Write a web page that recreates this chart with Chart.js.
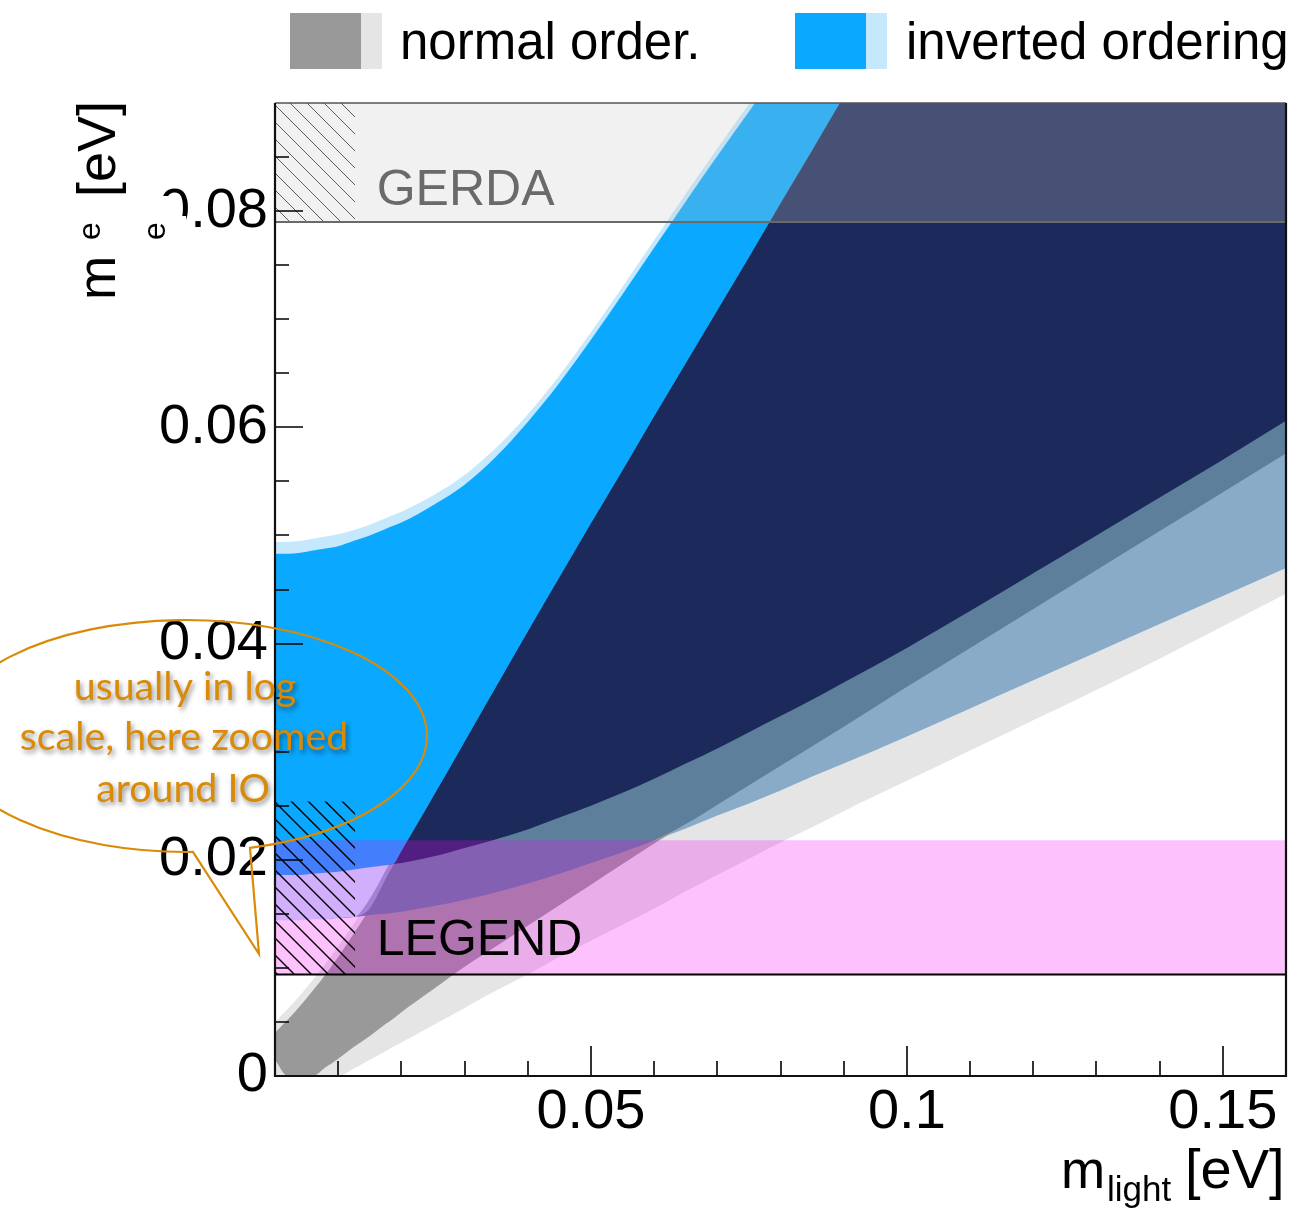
<!DOCTYPE html>
<html>
<head>
<meta charset="utf-8">
<script src="https://cdn.jsdelivr.net/npm/chart.js@4.4.1/dist/chart.umd.min.js"></script>
<style>
  html, body { margin: 0; padding: 0; background: #ffffff; }
  #wrap { width: 1292px; height: 1214px; position: relative; }
</style>
</head>
<body>
<div id="wrap"><canvas id="plot"></canvas></div>
<script>
// Lightest neutrino mass grid [eV]
const mLight = [0, 0.002, 0.004, 0.006, 0.008, 0.01, 0.0125, 0.015, 0.0175, 0.0187, 0.02,
  0.025, 0.03, 0.035, 0.04, 0.045, 0.05, 0.055, 0.06, 0.065, 0.07,
  0.075, 0.08, 0.085, 0.09, 0.1, 0.11, 0.12, 0.13, 0.14, 0.15, 0.16];

// Inverted ordering: 3 sigma envelope and central band edges [eV]
const ioUpper3s = [0.0494, 0.0494, 0.0495, 0.0497, 0.0499, 0.0501, 0.0505, 0.0510, 0.0516, 0.0519, 0.0522,
  0.0537, 0.0556, 0.0581, 0.0612, 0.0648, 0.0688, 0.0730, 0.0773, 0.0816, 0.0858,
  0.0899, 0.0940, 0.0980, 0.1020, 0.110, 0.118, 0.126, 0.134, 0.142, 0.150, 0.158];
const ioUpper = [0.0483, 0.0483, 0.0484, 0.0486, 0.0488, 0.0490, 0.0495, 0.0500, 0.0506, 0.0509, 0.0512,
  0.0528, 0.0547, 0.0573, 0.0605, 0.0641, 0.0681, 0.0723, 0.0766, 0.0809, 0.0851,
  0.0892, 0.0933, 0.0973, 0.1013, 0.109, 0.117, 0.125, 0.133, 0.141, 0.149, 0.157];
const ioLower = [0.0186, 0.0186, 0.0186, 0.0187, 0.0188, 0.0189, 0.0191, 0.0193, 0.0195, 0.0196, 0.0197,
  0.0203, 0.0211, 0.0219, 0.0228, 0.0239, 0.0250, 0.0262, 0.0275, 0.0289, 0.0303,
  0.0318, 0.0333, 0.0348, 0.0364, 0.0396, 0.0430, 0.0465, 0.0500, 0.0535, 0.0570, 0.0606];
const ioLower3s = [0.0144, 0.0144, 0.0144, 0.0145, 0.0145, 0.0146, 0.0147, 0.0149, 0.0150, 0.0151, 0.0152,
  0.0157, 0.0163, 0.0170, 0.0178, 0.0187, 0.0197, 0.0207, 0.0218, 0.0229, 0.0241,
  0.0252, 0.0264, 0.0277, 0.0289, 0.0314, 0.0340, 0.0366, 0.0392, 0.0418, 0.0444, 0.0470];

// Normal ordering: 3 sigma envelope and central band edges [eV]
const noUpper3s = [0.0050, 0.0062, 0.0075, 0.0089, 0.0104, 0.0120, 0.0141, 0.0164, 0.0190, 0.0203, 0.0216,
  0.0267, 0.0318, 0.0368, 0.0419, 0.0469, 0.0519, 0.0568, 0.0618, 0.0667, 0.0716,
  0.0765, 0.0815, 0.0864, 0.0914, 0.1013, 0.111, 0.121, 0.131, 0.141, 0.151, 0.161];
const noUpper = [0.0040, 0.0052, 0.0065, 0.0079, 0.0094, 0.0110, 0.0132, 0.0155, 0.0182, 0.0195, 0.0208,
  0.0258, 0.0309, 0.0360, 0.0411, 0.0461, 0.0511, 0.0560, 0.0610, 0.0659, 0.0708,
  0.0757, 0.0807, 0.0856, 0.0906, 0.1005, 0.1104, 0.1203, 0.1302, 0.1401, 0.150, 0.160];
const noLower = [0.0015, 0, 0, 0, 0.0008, 0.0016, 0.0027, 0.0037, 0.0048, 0.0053, 0.0059,
  0.0080, 0.0101, 0.0120, 0.0139, 0.0158, 0.0177, 0.0196, 0.0215, 0.0233, 0.0251,
  0.0269, 0.0287, 0.0305, 0.0323, 0.0360, 0.0396, 0.0432, 0.0468, 0.0504, 0.0540, 0.0576];
const noLower3s = [0, 0, 0, 0, 0, 0, 0.0007, 0.0015, 0.0023, 0.0027, 0.0031,
  0.0047, 0.0063, 0.0079, 0.0094, 0.0110, 0.0125, 0.0140, 0.0155, 0.0171, 0.0186,
  0.0201, 0.0216, 0.0230, 0.0245, 0.0273, 0.0301, 0.0329, 0.0357, 0.0386, 0.0416, 0.0446];

// Experimental sensitivities [eV]
const gerdaLimit = 0.079;
const legendLimit = 0.0094;
const legendBandTop = 0.0218;
const hatchEdge = 0.0127;
const hatchTop = 0.0254;

// Axes
const xRange = [0, 0.16];
const yRange = [0, 0.09];
const xTickValues = [0.05, 0.1, 0.15];
const xTickLabels = ['0.05', '0.1', '0.15'];
const yTickValues = [0, 0.02, 0.04, 0.06, 0.08];
const yTickLabels = ['0', '0.02', '0.04', '0.06', '0.08'];
const xMinorStep = 0.01;
const yMinorStep = 0.005;

const legendEntries = ['normal order.', 'inverted ordering'];

const SANS = "'Liberation Sans', Arial, Helvetica, sans-serif";

const C = {
  noOuter: '#e5e5e5',
  noCore: '#999999',
  ioOuter: '#c5e8fd',
  ioCore: '#0aa8fe',
  bothOuter: '#8aabc8',
  ioOuterNoCore: '#5e7f9b',
  bothCore: '#1b2a5a',
  gerdaShade: 'rgba(199,199,199,0.25)',
  legendShade: 'rgba(245,0,252,0.245)',
  note: '#d98a06'
};

const pts = ys => mLight.map((m, i) => ({ x: m, y: ys[i] }));
const hLine = (v, x0, x1) => [{ x: x0, y: v }, { x: x1, y: v }];
const maxOf = (a, b) => a.map((v, i) => Math.max(v, b[i]));
const minOf = (a, b) => a.map((v, i) => Math.min(v, b[i]));
const notBelow = (lo, hi) => hi.map((v, i) => Math.max(v, lo[i]));

function hatchPattern(color, width, step) {
  const c = document.createElement('canvas');
  c.width = step; c.height = step;
  const g = c.getContext('2d');
  g.strokeStyle = color; g.lineWidth = width;
  g.beginPath();
  g.moveTo(-step, 0); g.lineTo(step, 2 * step);
  g.moveTo(0, 0); g.lineTo(step, step);
  g.moveTo(0, -step); g.lineTo(2 * step, step);
  g.stroke();
  return g.createPattern(c, 'repeat');
}

// painter's order: first entry is painted first
const datasets = [];
function addBand(lowerPts, upperPts, color) {
  datasets.push({ data: lowerPts, borderWidth: 0, pointRadius: 0, fill: false });
  datasets.push({ data: upperPts, borderWidth: 0, pointRadius: 0, fill: '-1', backgroundColor: color });
}
function addLine(linePts, color, width) {
  datasets.push({ data: linePts, borderColor: color, borderWidth: width, pointRadius: 0, fill: false });
}

// overlap regions
const bothOuterLo = maxOf(ioLower3s, noLower3s);
const bothOuterHi = notBelow(bothOuterLo, minOf(ioUpper3s, noUpper3s));
const steelLo = maxOf(ioLower3s, noLower);
const steelHi = notBelow(steelLo, minOf(ioUpper3s, noUpper));
const coreLo = maxOf(ioLower, noLower);
const coreHi = notBelow(coreLo, minOf(ioUpper, noUpper));

addBand(pts(noLower3s), pts(noUpper3s), C.noOuter);
addBand(pts(ioLower3s), pts(ioUpper3s), C.ioOuter);
addBand(pts(bothOuterLo), pts(bothOuterHi), C.bothOuter);
addBand(pts(noLower), pts(noUpper), C.noCore);
addBand(pts(ioLower), pts(ioUpper), C.ioCore);
addBand(pts(steelLo), pts(steelHi), C.ioOuterNoCore);
addBand(pts(coreLo), pts(coreHi), C.bothCore);

// GERDA
addBand(hLine(gerdaLimit, 0, hatchEdge), hLine(yRange[1], 0, hatchEdge), hatchPattern('#3a3a3a', 1, 17));
addBand(hLine(gerdaLimit, xRange[0], xRange[1]), hLine(yRange[1], xRange[0], xRange[1]), C.gerdaShade);
addLine(hLine(gerdaLimit, xRange[0], xRange[1]), '#6a6a6a', 2);

// LEGEND
addBand(hLine(legendLimit, xRange[0], xRange[1]), hLine(legendBandTop, xRange[0], xRange[1]), C.legendShade);
addBand(hLine(legendLimit, 0, hatchEdge), hLine(hatchTop, 0, hatchEdge), hatchPattern('#000000', 1.4, 17));
addLine(hLine(legendLimit, xRange[0], xRange[1]), '#000000', 2);

datasets.forEach((d, i) => {
  d.order = -i;
  d.cubicInterpolationMode = 'monotone';
  d.pointHoverRadius = 0;
});

const frameAndTicks = {
  id: 'frameAndTicks',
  afterDatasetsDraw(chart) {
    const { ctx, chartArea: a, scales: { x, y } } = chart;
    ctx.save();
    ctx.strokeStyle = '#000'; ctx.lineWidth = 1.6;
    ctx.beginPath();
    for (let k = 1; k <= 15; k++) {
      const px = Math.round(x.getPixelForValue(k * xMinorStep));
      const len = (k % 5 === 0) ? 30 : 15;
      ctx.moveTo(px, a.bottom); ctx.lineTo(px, a.bottom - len);
    }
    for (let k = 1; k <= 17; k++) {
      const py = Math.round(y.getPixelForValue(k * yMinorStep));
      const len = (k % 4 === 0) ? 28 : 14;
      ctx.moveTo(a.left, py); ctx.lineTo(a.left + len, py);
    }
    ctx.stroke();
    ctx.strokeStyle = '#555'; ctx.lineWidth = 1.5;
    ctx.beginPath(); ctx.moveTo(a.left, a.top); ctx.lineTo(a.right, a.top); ctx.stroke();
    ctx.strokeStyle = '#111'; ctx.lineWidth = 2.2;
    ctx.beginPath();
    ctx.moveTo(a.right, a.top); ctx.lineTo(a.right, a.bottom);
    ctx.lineTo(a.left, a.bottom); ctx.lineTo(a.left, a.top);
    ctx.stroke();

    // experiment names
    ctx.textAlign = 'left'; ctx.textBaseline = 'alphabetic';
    ctx.font = '50px ' + SANS;
    ctx.fillStyle = '#6a6a6a';
    ctx.fillText('GERDA', x.getPixelForValue(0.0161), y.getPixelForValue(0.0806));
    ctx.fillStyle = '#000';
    ctx.fillText('LEGEND', x.getPixelForValue(0.0161), y.getPixelForValue(0.0112));
    ctx.restore();
  },
  afterDraw(chart) {
    const ctx = chart.ctx;
    ctx.save();
    ctx.textBaseline = 'alphabetic'; ctx.textAlign = 'left';

    // header legend with two-tone swatches
    ctx.fillStyle = C.noCore; ctx.fillRect(290, 13, 71, 56);
    ctx.fillStyle = C.noOuter; ctx.fillRect(361, 13, 21, 56);
    ctx.fillStyle = C.ioCore; ctx.fillRect(795, 13, 71, 56);
    ctx.fillStyle = C.ioOuter; ctx.fillRect(866, 13, 21, 56);
    ctx.fillStyle = '#000';
    ctx.font = '51px ' + SANS;
    ctx.fillText(legendEntries[0], 400, 59);
    ctx.fillText(legendEntries[1], 906, 59);

    // x axis title
    ctx.font = '53px ' + SANS;
    ctx.fillText('m', 1061, 1188);
    ctx.font = '35px ' + SANS;
    ctx.fillText('light', 1107, 1201);
    ctx.font = '56px ' + SANS;
    ctx.fillText('[eV]', 1185, 1188);

    // partially hidden first digit of the 0.08 label
    ctx.fillStyle = '#fff';
    ctx.fillRect(150, 196, 19, 40);
    ctx.fillRect(150, 216, 36, 20);
    ctx.fillStyle = '#000';

    // y axis title (rotated)
    ctx.save();
    ctx.translate(115, 300); ctx.rotate(-Math.PI / 2);
    ctx.font = '53px ' + SANS; ctx.fillText('m', 0, 0);
    ctx.font = '32px ' + SANS; ctx.fillText('e', 60, -15);
    ctx.font = '54px ' + SANS; ctx.fillText('[eV]', 103, 0);
    ctx.restore();
    ctx.save();
    ctx.translate(165, 240); ctx.rotate(-Math.PI / 2);
    ctx.font = '32px ' + SANS; ctx.fillText('e', 0, 0);
    ctx.restore();

    // callout bubble
    ctx.strokeStyle = C.note; ctx.lineWidth = 2.2;
    ctx.beginPath();
    ctx.ellipse(186, 736, 241, 116, 0, 1.542, 1.302 + 2 * Math.PI, false);
    ctx.lineTo(259, 954);
    ctx.closePath();
    ctx.stroke();

    ctx.font = "36px 'Lato', 'Open Sans', sans-serif";
    const target = 328;
    const w = ctx.measureText('scale, here zoomed').width;
    const size = 36 * target / w;
    ctx.font = size.toFixed(1) + "px 'Lato', 'Open Sans', sans-serif";
    ctx.textAlign = 'center';
    ctx.fillStyle = C.note;
    ctx.shadowColor = 'rgba(0,0,0,0.45)';
    ctx.shadowBlur = 5; ctx.shadowOffsetX = 2; ctx.shadowOffsetY = 3;
    ctx.fillText('usually in log', 185, 700);
    ctx.fillText('scale, here zoomed', 184, 750);
    ctx.fillText('around IO', 183, 802);
    ctx.restore();
  }
};

new Chart(document.getElementById('plot'), {
  type: 'line',
  data: { datasets },
  options: {
    responsive: true,
    maintainAspectRatio: false,
    devicePixelRatio: 1,
    animation: false,
    events: [],
    layout: { padding: { top: 103, right: 6, left: 0, bottom: 0 } },
    plugins: { legend: { display: false }, tooltip: { enabled: false } },
    scales: {
      x: {
        type: 'linear', min: xRange[0], max: xRange[1],
        grid: { display: false, drawTicks: false },
        border: { display: false },
        afterFit: s => { s.height = 138; },
        afterBuildTicks: s => { s.ticks = xTickValues.map(v => ({ value: v })); },
        ticks: {
          autoSkip: false, maxRotation: 0, padding: 3, color: '#000',
          font: { family: SANS, size: 56 },
          callback: (v, i) => xTickLabels[i]
        }
      },
      y: {
        type: 'linear', min: yRange[0], max: yRange[1],
        grid: { display: false, drawTicks: false },
        border: { display: false },
        afterFit: s => { s.width = 275; },
        afterBuildTicks: s => { s.ticks = yTickValues.map(v => ({ value: v })); },
        ticks: {
          autoSkip: false, padding: 7, color: '#000',
          font: { family: SANS, size: 56 },
          callback: (v, i) => yTickLabels[i]
        }
      }
    }
  },
  plugins: [frameAndTicks]
});
</script>
</body>
</html>
